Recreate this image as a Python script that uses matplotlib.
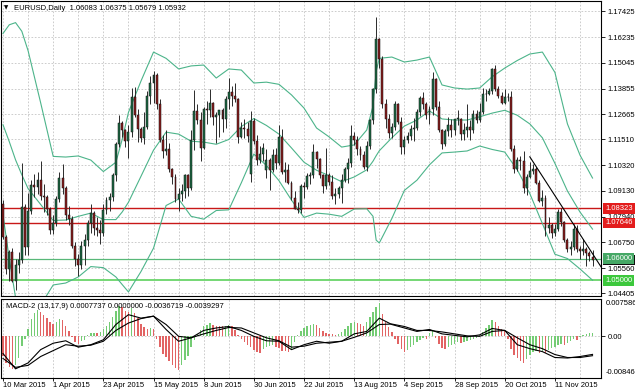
import numpy as np
import matplotlib
matplotlib.use("Agg")
import matplotlib.pyplot as plt

plt.rcParams['font.family'] = ['Liberation Sans', 'DejaVu Sans']

# daily EURUSD bars, 10 Mar 2015 .. 27 Nov 2015
opens = [
    1.0850, 1.0700, 1.0550, 1.0630, 1.0495, 1.0570, 1.0595, 1.0840, 1.0655, 1.0820,
    1.0940, 1.0930, 1.0965, 1.0890, 1.0885, 1.0830, 1.0730, 1.0765, 1.0875, 1.0970,
    1.0925, 1.0800, 1.0785, 1.0660, 1.0600, 1.0570, 1.0660, 1.0685, 1.0765, 1.0810,
    1.0740, 1.0730, 1.0720, 1.0825, 1.0870, 1.0885, 1.0985, 1.1130, 1.1225, 1.1195,
    1.1145, 1.1185, 1.1345, 1.1265, 1.1200, 1.1155, 1.1210, 1.1350, 1.1410, 1.1450,
    1.1315, 1.1150, 1.1095, 1.1105, 1.1015, 1.0975, 1.0875, 1.0900, 1.0910, 1.0985,
    1.0925, 1.1150, 1.1280, 1.1240, 1.1110, 1.1290, 1.1285, 1.1320, 1.1255, 1.1265,
    1.1285, 1.1245, 1.1335, 1.1370, 1.1350, 1.1335, 1.1160, 1.1205, 1.1200, 1.0990,
    1.1235, 1.1145, 1.1055, 1.1085, 1.1010, 1.1055, 1.1010, 1.1080, 1.1040, 1.1160,
    1.1000, 1.1010, 1.0950, 1.0880, 1.0830, 1.0825, 1.0935, 1.0930, 1.0980, 1.0985,
    1.1090, 1.1060, 1.0985, 1.0935, 1.0985, 1.0955, 1.0890, 1.0900, 1.0925, 1.0965,
    1.1015, 1.1040, 1.1165, 1.1150, 1.1105, 1.1080, 1.1025, 1.1120, 1.1240, 1.1385,
    1.1615, 1.1520, 1.1315, 1.1245, 1.1180, 1.1210, 1.1315, 1.1230, 1.1115, 1.1150,
    1.1165, 1.1200, 1.1205, 1.1275, 1.1340, 1.1315, 1.1265, 1.1290, 1.1430, 1.1300,
    1.1195, 1.1130, 1.1190, 1.1215, 1.1195, 1.1245, 1.1245, 1.1175, 1.1195, 1.1210,
    1.1195, 1.1270, 1.1240, 1.1275, 1.1360, 1.1360, 1.1375, 1.1475, 1.1385, 1.1350,
    1.1320, 1.1345, 1.1345, 1.1105, 1.1015, 1.1055, 1.1050, 1.0925, 1.0975, 1.1005,
    1.1015, 1.0950, 1.0865, 1.0880, 1.0740, 1.0755, 1.0720, 1.0735, 1.0815, 1.0770,
    1.0685, 1.0645, 1.0655, 1.0735, 1.0645, 1.0635, 1.0645, 1.0625, 1.06083]
highs = [
    1.0870, 1.0710, 1.0640, 1.0650, 1.0600, 1.0630, 1.1043, 1.0850, 1.0905, 1.0965,
    1.0990, 1.1000, 1.1052, 1.0945, 1.0895, 1.0840, 1.0800, 1.0890, 1.1000, 1.1035,
    1.0935, 1.0845, 1.0795, 1.0675, 1.0620, 1.0680, 1.0715, 1.0780, 1.0850, 1.0820,
    1.0790, 1.0780, 1.0850, 1.0885, 1.0905, 1.0995, 1.1140, 1.1265, 1.1235, 1.1200,
    1.1215, 1.1390, 1.1392, 1.1290, 1.1210, 1.1275, 1.1375, 1.1445, 1.1467, 1.1455,
    1.1335, 1.1170, 1.1195, 1.1135, 1.1020, 1.0990, 1.0925, 1.0945, 1.0990, 1.0990,
    1.1195, 1.1380, 1.1315, 1.1275, 1.1300, 1.1330, 1.1385, 1.1325, 1.1275, 1.1285,
    1.1295, 1.1350, 1.1435, 1.1395, 1.1410, 1.1340, 1.1230, 1.1245, 1.1230, 1.1280,
    1.1250, 1.1170, 1.1120, 1.1135, 1.1105, 1.1065, 1.1105, 1.1110, 1.1215, 1.1200,
    1.1045, 1.1035, 1.0960, 1.0910, 1.0860, 1.0945, 1.0955, 1.0995, 1.1000, 1.1130,
    1.1095, 1.1065, 1.0990, 1.1110, 1.0995, 1.0985, 1.0925, 1.0935, 1.0990, 1.1025,
    1.1065, 1.1215, 1.1185, 1.1165, 1.1120, 1.1095, 1.1145, 1.1245, 1.1390, 1.1714,
    1.1620, 1.1535, 1.1335, 1.1270, 1.1225, 1.1330, 1.1320, 1.1255, 1.1165, 1.1185,
    1.1215, 1.1250, 1.1290, 1.1350, 1.1370, 1.1325, 1.1305, 1.1460, 1.1435, 1.1330,
    1.1200, 1.1200, 1.1255, 1.1245, 1.1245, 1.1285, 1.1250, 1.1225, 1.1315, 1.1240,
    1.1285, 1.1285, 1.1320, 1.1390, 1.1385, 1.1390, 1.1480, 1.1495, 1.1395, 1.1370,
    1.1385, 1.1365, 1.1375, 1.1125, 1.1070, 1.1075, 1.1095, 1.0990, 1.1045, 1.1035,
    1.1025, 1.0965, 1.0915, 1.0895, 1.0790, 1.0765, 1.0760, 1.0830, 1.0835, 1.0775,
    1.0695, 1.0680, 1.0760, 1.0755, 1.0660, 1.0690, 1.0655, 1.0635, 1.06375]
lows = [
    1.0690, 1.0530, 1.0495, 1.0490, 1.0457, 1.0535, 1.0580, 1.0615, 1.0615, 1.0805,
    1.0885, 1.0900, 1.0870, 1.0815, 1.0800, 1.0715, 1.0715, 1.0750, 1.0860, 1.0900,
    1.0780, 1.0755, 1.0650, 1.0565, 1.0520, 1.0550, 1.0570, 1.0660, 1.0720, 1.0710,
    1.0705, 1.0665, 1.0705, 1.0805, 1.0820, 1.0865, 1.0960, 1.1115, 1.1160, 1.1115,
    1.1065, 1.1160, 1.1255, 1.1140, 1.1140, 1.1130, 1.1200, 1.1315, 1.1320, 1.1290,
    1.1140, 1.1065, 1.1080, 1.1000, 1.0945, 1.0860, 1.0820, 1.0865, 1.0880, 1.0890,
    1.0915, 1.1100, 1.1220, 1.1050, 1.1105, 1.1220, 1.1255, 1.1215, 1.1135, 1.1160,
    1.1185, 1.1205, 1.1290, 1.1305, 1.1325, 1.1135, 1.1155, 1.1155, 1.1140, 1.0955,
    1.1130, 1.1030, 1.1040, 1.1050, 1.0970, 1.0915, 1.1000, 1.1015, 1.1030, 1.0990,
    1.0955, 1.0945, 1.0870, 1.0830, 1.0810, 1.0810, 1.0880, 1.0920, 1.0945, 1.0970,
    1.1020, 1.0970, 1.0905, 1.0920, 1.0940, 1.0875, 1.0850, 1.0880, 1.0855, 1.0955,
    1.0950, 1.1025, 1.1125, 1.1080, 1.1055, 1.1015, 1.1005, 1.1105, 1.1220, 1.1365,
    1.1480, 1.1295, 1.1205, 1.1155, 1.1155, 1.1195, 1.1220, 1.1085, 1.1085, 1.1135,
    1.1150, 1.1145, 1.1195, 1.1260, 1.1290, 1.1245, 1.1220, 1.1265, 1.1285, 1.1185,
    1.1105, 1.1120, 1.1165, 1.1160, 1.1170, 1.1215, 1.1150, 1.1150, 1.1160, 1.1150,
    1.1180, 1.1225, 1.1230, 1.1270, 1.1330, 1.1355, 1.1360, 1.1375, 1.1340, 1.1315,
    1.1315, 1.1330, 1.1095, 1.0995, 1.1005, 1.1010, 1.0905, 1.0895, 1.0970, 1.0990,
    1.0945, 1.0860, 1.0845, 1.0705, 1.0720, 1.0695, 1.0705, 1.0725, 1.0750, 1.0675,
    1.0630, 1.0615, 1.0640, 1.0630, 1.0600, 1.0615, 1.0565, 1.0590, 1.05679]
closes = [
    1.0700, 1.0550, 1.0630, 1.0495, 1.0570, 1.0595, 1.0840, 1.0655, 1.0820, 1.0940,
    1.0930, 1.0965, 1.0890, 1.0885, 1.0830, 1.0730, 1.0765, 1.0875, 1.0970, 1.0925,
    1.0800, 1.0785, 1.0660, 1.0600, 1.0570, 1.0660, 1.0685, 1.0765, 1.0810, 1.0740,
    1.0730, 1.0720, 1.0825, 1.0870, 1.0885, 1.0985, 1.1130, 1.1225, 1.1195, 1.1145,
    1.1185, 1.1345, 1.1265, 1.1200, 1.1155, 1.1210, 1.1350, 1.1410, 1.1450, 1.1315,
    1.1150, 1.1095, 1.1105, 1.1015, 1.0975, 1.0875, 1.0900, 1.0910, 1.0985, 1.0925,
    1.1150, 1.1280, 1.1240, 1.1110, 1.1290, 1.1285, 1.1320, 1.1255, 1.1265, 1.1285,
    1.1245, 1.1335, 1.1370, 1.1350, 1.1335, 1.1160, 1.1205, 1.1200, 1.1165, 1.1235,
    1.1145, 1.1055, 1.1085, 1.1110, 1.1055, 1.1010, 1.1080, 1.1040, 1.1160, 1.1000,
    1.1010, 1.0950, 1.0880, 1.0830, 1.0825, 1.0935, 1.0930, 1.0980, 1.0985, 1.1090,
    1.1060, 1.0985, 1.0935, 1.0985, 1.0955, 1.0890, 1.0900, 1.0925, 1.0965, 1.1015,
    1.1040, 1.1165, 1.1150, 1.1105, 1.1080, 1.1025, 1.1120, 1.1240, 1.1385, 1.1615,
    1.1520, 1.1315, 1.1245, 1.1180, 1.1210, 1.1315, 1.1230, 1.1115, 1.1150, 1.1165,
    1.1200, 1.1205, 1.1275, 1.1340, 1.1315, 1.1265, 1.1290, 1.1430, 1.1300, 1.1195,
    1.1130, 1.1190, 1.1215, 1.1195, 1.1245, 1.1245, 1.1175, 1.1195, 1.1210, 1.1195,
    1.1270, 1.1240, 1.1275, 1.1360, 1.1360, 1.1375, 1.1475, 1.1385, 1.1350, 1.1320,
    1.1345, 1.1345, 1.1105, 1.1015, 1.1055, 1.1050, 1.0925, 1.0975, 1.1005, 1.1015,
    1.0950, 1.0865, 1.0880, 1.0740, 1.0755, 1.0720, 1.0735, 1.0815, 1.0770, 1.0685,
    1.0645, 1.0655, 1.0735, 1.0645, 1.0635, 1.0645, 1.0625, 1.0610, 1.05932]

# Bollinger bands at these bar numbers
bb_idx = [0, 2, 4, 6, 8, 12, 16, 20, 24, 28, 32, 36, 38, 40, 44, 48, 52, 56, 60, 64,
          68, 72, 76, 80, 84, 88, 92, 96, 100, 104, 108, 112, 116, 118, 119, 120,
          124, 128, 132, 136, 140, 144, 148, 152, 156, 160, 164, 168, 172, 176, 180, 184, 188]
bb_upper = [1.1640, 1.1680, 1.1690, 1.1650, 1.1560, 1.1320, 1.1072, 1.1069, 1.1074, 1.1055,
            1.1002, 1.1045, 1.1150, 1.1275, 1.1420, 1.1554, 1.1525, 1.1476, 1.1490, 1.1494,
            1.1434, 1.1476, 1.1471, 1.1411, 1.1415, 1.1405, 1.1356, 1.1295, 1.1203, 1.1162,
            1.1115, 1.1125, 1.1194, 1.1305, 1.1465, 1.1525,
            1.1531, 1.1508, 1.1517, 1.1531, 1.1402, 1.1388, 1.1383, 1.1388, 1.1440, 1.1480,
            1.1515, 1.1545, 1.1554, 1.1460, 1.1222, 1.1078, 1.0972]
bb_middle = [1.1218, 1.1140, 1.1056, 1.0987, 1.0923, 1.0850, 1.0776, 1.0778, 1.0795, 1.0810,
             1.0780, 1.0780, 1.0815, 1.0860, 1.0980, 1.1101, 1.1184, 1.1175, 1.1142, 1.1138,
             1.1128, 1.1150, 1.1210, 1.1247, 1.1215, 1.1175, 1.1111, 1.1045, 1.1008, 1.0983,
             1.0955, 1.0977, 1.1010, 1.1050, 1.1075, 1.1098,
             1.1158, 1.1212, 1.1240, 1.1282, 1.1245, 1.1240, 1.1240, 1.1255, 1.1272, 1.1285,
             1.1262, 1.1222, 1.1158, 1.1040, 1.0912, 1.0815, 1.0736]
bb_lower = [1.0800, 1.0600, 1.0420, 1.0330, 1.0300, 1.0385, 1.0478, 1.0487, 1.0515, 1.0563,
            1.0558, 1.0515, 1.0480, 1.0446, 1.0540, 1.0648, 1.0845, 1.0875, 1.0795, 1.0782,
            1.0822, 1.0825, 1.0950, 1.1083, 1.1030, 1.0960, 1.0870, 1.0790, 1.0810, 1.0805,
            1.0795, 1.0829, 1.0830, 1.0795, 1.0685, 1.0672,
            1.0785, 1.0915, 1.0962, 1.1033, 1.1088, 1.1092, 1.1097, 1.1120, 1.1104, 1.1092,
            1.1010, 1.0900, 1.0762, 1.0620, 1.0600, 1.0552, 1.0500]

# horizontal levels and the falling trend line
red_levels = [1.08323, 1.07646]
green_levels = [1.06000, 1.05000]
trend_idx = [168, 190.7]
trend_price = [1.1070, 1.0562]

# MACD-2 (13,17,9): histogram per bar and the two lines every 4 bars, in 1e-4
hist_e4 = [
    -40, -55, -62, -66, -58, -45, -20, -5, 15, 35,
    48, 53, 50, 44, 38, 30, 26, 30, 36, 33,
    20, 10, -2, -12, -16, -10, -8, 3, 6, 7,
    7, 8, 14, 22, 30, 40, 52, 62, 60, 52,
    50, 58, 48, 38, 25, 18, 14, 16, 15, -5,
    -22, -35, -42, -50, -58, -64, -68, -58, -48, -40,
    -22, -8, 5, 12, 20, 24, 27, 24, 22, 21,
    20, 22, 24, 20, 12, 2, -6, -12, -18, -22,
    -27, -32, -34, -26, -22, -20, -18, -22, -24, -30,
    -30, -32, -28, -12, 3, 10, 16, 20, 24, 26,
    24, 17, 10, 7, 5, 4, 3, 5, 8, 14,
    20, 27, 30, 28, 25, 22, 30, 40, 50, 60,
    68, 45, 30, 18, 8, -6, -16, -26, -31, -28,
    -22, -17, -12, -7, -3, -6, 6, 12, -4, -15,
    -24, -26, -22, -18, -15, -12, -14, -12, -10, -8,
    -5, -3, 2, 8, 16, 24, 34, 30, 22, 14,
    10, -5, -25, -38, -45, -50, -54, -46, -38, -32,
    -30, -33, -30, -34, -28, -24, -22, -18, -16, -18,
    -14, -10, -6, -8, -2, 3, 5, 6, 7.737]
macd_idx = list(range(0, 189, 4))
macd_e4 = [-35, -66, -54, -27, -14, -9, -22, -17, -7, 24, 44, 37, 41, 14, -10, -3,
           12, 17, 20, 12, 0, -9, -10, -27, -17, -10, -14, -10, 5, 10, 37, 24,
           17, 10, 14, 5, 2, -1, 3, 16, 12, -17, -25, -31, -43, -44, -41, -36.719]
signal_e4 = [-45, -63, -59, -41, -29, -17, -20, -18, -10, 12, 27, 36, 41, 24, 0, -3,
             5, 12, 18, 17, 7, -3, -9, -22, -20, -14, -12, -10, -2, 7, 24, 25,
             20, 12, 12, 9, 5, 1, 0, 10, 12, -3, -17, -25, -37, -43, -43, -39.297]

price_ticks = [1.17425, 1.16235, 1.15045, 1.13855, 1.12665, 1.11510,
               1.10320, 1.09130, 1.07940, 1.06750, 1.05560, 1.04405]
date_idx = [0, 16, 32, 48, 64, 80, 96, 112, 128, 144, 160, 176]
date_labels = ['10 Mar 2015', '1 Apr 2015', '23 Apr 2015', '15 May 2015', '8 Jun 2015',
               '30 Jun 2015', '22 Jul 2015', '13 Aug 2015', '4 Sep 2015', '28 Sep 2015',
               '20 Oct 2015', '11 Nov 2015']
grid_idx = list(range(0, 190, 8))

FS = 5.5
W, H = 635, 391
fig = plt.figure(figsize=(W / 100, H / 100), dpi=100)


def fx(px):
    return px / W


def fy(py):
    return 1 - py / H


ax = fig.add_axes([fx(1), fy(296), fx(601) - fx(1), fy(1) - fy(296)])
ax2 = fig.add_axes([fx(1), fy(378), fx(601) - fx(1), fy(299) - fy(378)])
xlim = (-0.64, 190.7)

# --- price panel ---
x = np.arange(len(closes))
o, h, l, c = map(np.array, (opens, highs, lows, closes))
up = c >= o
body_lo = np.minimum(o, c)
body_h = np.maximum(np.abs(c - o), 0.00025)

for v in grid_idx:
    ax.axvline(v, color='#c4c4c4', lw=0.6, ls=(0, (2, 2)), zorder=0)
for v in price_ticks:
    ax.axhline(v, color='#c4c4c4', lw=0.6, ls=(0, (2, 2)), zorder=0)

for v in red_levels:
    ax.axhline(v, color='#c81818', lw=1.0, zorder=2)
ax.axhline(green_levels[0], color='#58b878', lw=0.9, zorder=2)
ax.axhline(green_levels[1], color='#6ad46a', lw=1.3, zorder=2)

bb_col = '#4cb48a'
for band in (bb_upper, bb_middle, bb_lower):
    ax.plot(bb_idx, band, color=bb_col, lw=0.8, zorder=2)

ax.vlines(x, l, h, color='#2a2a2a', lw=0.7, zorder=3)
ax.bar(x[up], body_h[up], bottom=body_lo[up], width=0.62, color='#1d6a44',
       edgecolor='#101010', lw=0.35, zorder=4)
ax.bar(x[~up], body_h[~up], bottom=body_lo[~up], width=0.62, color='#8a1c1c',
       edgecolor='#101010', lw=0.35, zorder=4)

ax.plot(trend_idx, trend_price, color='black', lw=0.8, zorder=5)

ax.set_xlim(*xlim)
ax.set_ylim(1.0427, 1.17899)
ax.set_xticks([])
ax.yaxis.tick_right()
ax.set_yticks(price_ticks)
ax.set_yticklabels([f'{v:.5f}' for v in price_ticks])
ax.tick_params(axis='y', length=3, width=0.6, pad=1.5, labelsize=FS, colors='black')
for s in ax.spines.values():
    s.set_color('black')
    s.set_linewidth(0.8)

# level labels on the price scale
level_boxes = [(1.05932, '#101010'), (red_levels[0], '#e31c1c'), (red_levels[1], '#e31c1c'),
               (green_levels[0], '#45a865'), (green_levels[1], '#3cc83c')]
for val, col in level_boxes:
    ax.annotate(f'{val:.5f}', xy=(1.0, val), xycoords=('axes fraction', 'data'),
                xytext=(3, 0), textcoords='offset points', ha='left', va='center',
                fontsize=FS, color='white', annotation_clip=False, zorder=10,
                bbox=dict(boxstyle='square,pad=0.25', fc=col, ec='none'))

# --- MACD panel ---
hist = np.array(hist_e4) * 1e-4
hcol = ['#e26464'] + ['#74cc74' if hist[i] > hist[i - 1] else '#e26464'
                      for i in range(1, len(hist))]
for v in grid_idx:
    ax2.axvline(v, color='#c4c4c4', lw=0.6, ls=(0, (2, 2)), zorder=0)
ax2.axhline(0, color='#c4c4c4', lw=0.6, ls=(0, (2, 2)), zorder=0)
ax2.bar(x, hist, width=0.45, color=hcol, zorder=2)
ax2.plot(macd_idx, np.array(macd_e4) * 1e-4, color='black', lw=0.8, zorder=3)
ax2.plot(macd_idx, np.array(signal_e4) * 1e-4, color='black', lw=0.8, zorder=3)

ax2.set_xlim(*xlim)
ax2.set_ylim(-0.008464, 0.007586)
ax2.yaxis.tick_right()
ax2.set_yticks([0])
ax2.set_yticklabels(['0.00'])
ax2.tick_params(axis='y', length=3, width=0.6, pad=1.5, labelsize=FS)
ax2.set_xticks(date_idx)
ax2.set_xticklabels(date_labels)
ax2.tick_params(axis='x', length=2, width=0.6, pad=1, labelsize=FS)
for lbl in ax2.get_xticklabels():
    lbl.set_ha('left')
for s in ax2.spines.values():
    s.set_color('black')
    s.set_linewidth(0.8)
ax2.text(1.008, 0.99, '0.007586', transform=ax2.transAxes, ha='left', va='top', fontsize=FS)
ax2.text(1.008, 0.02, '-0.008464', transform=ax2.transAxes, ha='left', va='bottom', fontsize=FS)

# panel captions
fig.text(fx(6), fy(306), 'MACD-2 (13,17,9) 0.0007737 0.0000000 -0.0036719 -0.0039297',
         ha='left', va='center', fontsize=FS)
fig.text(fx(3.5), fy(8), '\u25bc', ha='left', va='center', fontsize=4, family='DejaVu Sans')
fig.text(fx(14), fy(8), 'EURUSD,Daily  1.06083 1.06375 1.05679 1.05932',
         ha='left', va='center', fontsize=FS)

fig.savefig('out.png', dpi=100)
